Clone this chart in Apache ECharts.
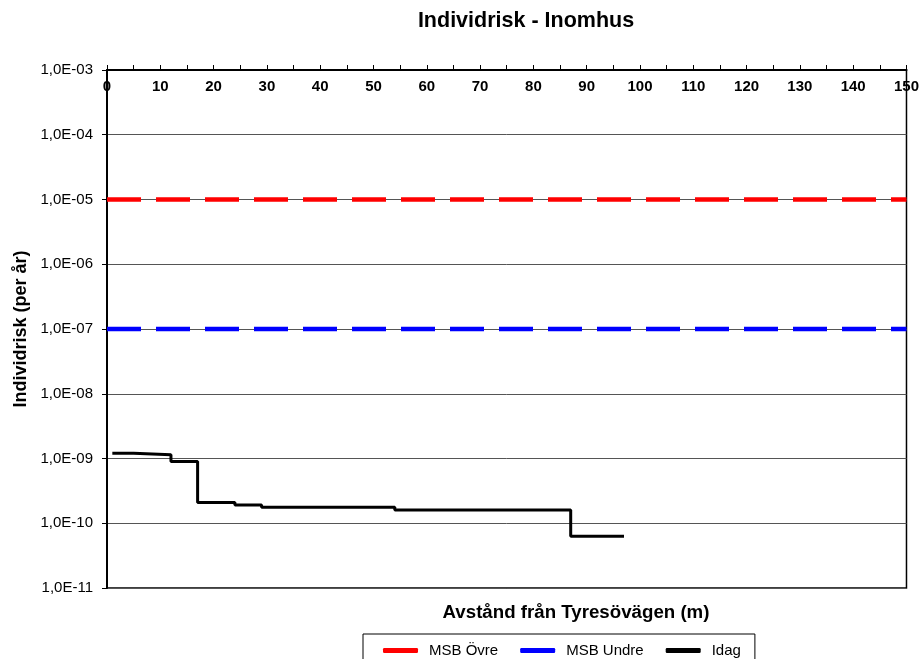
<!DOCTYPE html>
<html>
<head>
<meta charset="utf-8">
<script src="https://cdn.jsdelivr.net/npm/echarts@6/dist/echarts.min.js"></script>
<style>
  html, body { margin: 0; padding: 0; background: #fff; }
  #chart { width: 922px; height: 659px; }
</style>
</head>
<body>
<div id="chart"></div>
<script>
// distance (m) where the "Idag" risk level starts, and the risk from there on
const distance = [1, 5, 12, 17, 24, 29, 54, 87, 97];
const idag = [1.21e-9, 1.14e-9, 9.0e-10, 2.1e-10, 1.91e-10, 1.76e-10, 1.6e-10, 6.3e-11, 6.3e-11];
// MSB criteria, flat over the whole distance range
const limitRange = [0, 150];
const msbOvre = [1e-5, 1e-5];
const msbUndre = [1e-7, 1e-7];

const font = "'Liberation Sans', Arial, sans-serif";

const chart = echarts.init(document.getElementById("chart"), null, { renderer: "canvas" });

const fmtExp = (v) => {
  const e = Math.round(Math.log10(v));
  const n = Math.abs(e);
  return "1,0E" + (e < 0 ? "-" : "+") + (n < 10 ? "0" + n : n);
};

const option = {
  animation: false,
  textStyle: { fontFamily: font },
  title: [
    {
      text: "Individrisk - Inomhus",
      left: 521,
      top: 5,
      textAlign: "center",
      textStyle: { fontFamily: font, fontSize: 21.5, fontWeight: "bold", color: "#000" },
    },
    {
      text: "Avstånd från Tyresövägen (m)",
      left: 571,
      top: 598,
      textAlign: "center",
      textStyle: { fontFamily: font, fontSize: 18.7, fontWeight: "bold", color: "#000" },
    }
  ],
  legend: {
    left: 363,
    top: 634,
    padding: [9, 14, 20, 20],
    itemGap: 22,
    itemWidth: 35,
    itemHeight: 5,
    icon: "roundRect",
    borderColor: "#000",
    borderWidth: 1,
    borderRadius: 0,
    textStyle: { fontFamily: font, fontSize: 15, color: "#000", padding: [0, 0, 0, 6] },
    data: ["MSB Övre", "MSB Undre", "Idag"],
  },
  grid: {
    left: 107,
    right: 13,
    top: 70,
    bottom: 71,
    show: true,
    borderColor: "#000",
    borderWidth: 1.5,
  },
  xAxis: {
    type: "value",
    position: "top",
    min: 0,
    max: 150,
    interval: 10,
    axisLine: { lineStyle: { color: "#000", width: 2 } },
    axisTick: { show: true, inside: false, length: 5, lineStyle: { color: "#000" } },
    minorTick: { show: true, splitNumber: 2, length: 5, lineStyle: { color: "#000" } },
    axisLabel: {
      inside: true,
      margin: 9,
      fontFamily: font,
      fontSize: 15,
      fontWeight: "bold",
      color: "#000",
      verticalAlign: "top",
    },
    splitLine: { show: false },
  },
  yAxis: {
    type: "log",
    logBase: 10,
    min: 1e-11,
    max: 1e-3,
    name: "Individrisk (per år)",
    nameLocation: "middle",
    nameGap: 77,
    nameTextStyle: { fontFamily: font, fontSize: 18, fontWeight: "bold", color: "#000" },
    axisLine: { show: true, lineStyle: { color: "#000", width: 2 } },
    axisTick: { show: true, length: 5, lineStyle: { color: "#000" } },
    axisLabel: {
      margin: 14,
      fontFamily: font,
      fontSize: 15,
      color: "#000",
      formatter: fmtExp,
    },
    splitLine: { show: true, lineStyle: { color: "#555", width: 1 } },
  },
  series: [
    {
      name: "MSB Övre",
      type: "line",
      symbol: "none",
      color: "#ff0000",
      lineStyle: { width: 4.5, type: [34, 15], cap: "butt" },
      data: limitRange.map((x, i) => [x, msbOvre[i]]),
      z: 3,
    },
    {
      name: "MSB Undre",
      type: "line",
      symbol: "none",
      color: "#0000ff",
      lineStyle: { width: 4.5, type: [34, 15], cap: "butt" },
      data: limitRange.map((x, i) => [x, msbUndre[i]]),
      z: 3,
    },
    {
      name: "Idag",
      type: "line",
      symbol: "none",
      step: "end",
      color: "#000",
      lineStyle: { width: 3 },
      data: distance.map((x, i) => [x, idag[i]]),
      z: 4,
    }
  ],
};

chart.setOption(option);
</script>
</body>
</html>
